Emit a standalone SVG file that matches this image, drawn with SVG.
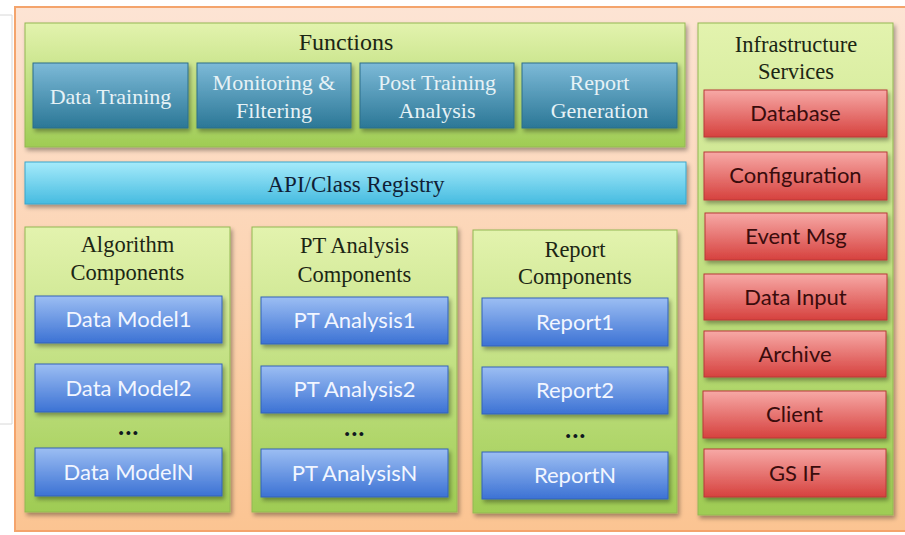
<svg xmlns="http://www.w3.org/2000/svg" width="905" height="535" viewBox="0 0 905 535">
<defs>
<linearGradient id="gOuter" x1="0" y1="0" x2="0" y2="1"><stop offset="0" stop-color="#FDE4D4"/><stop offset="1" stop-color="#FBC492"/></linearGradient>
<linearGradient id="gGreen" x1="0" y1="0" x2="0" y2="1"><stop offset="0" stop-color="#E3F3AE"/><stop offset="1" stop-color="#9FCC54"/></linearGradient>
<linearGradient id="gTeal" x1="0" y1="0" x2="0" y2="1"><stop offset="0" stop-color="#7DBAD8"/><stop offset="1" stop-color="#2B7796"/></linearGradient>
<linearGradient id="gCyan" x1="0" y1="0" x2="0" y2="1"><stop offset="0" stop-color="#A6EBFB"/><stop offset="1" stop-color="#45BBE0"/></linearGradient>
<linearGradient id="gRed" x1="0" y1="0" x2="0" y2="1"><stop offset="0" stop-color="#F7A9A6"/><stop offset="1" stop-color="#D6413E"/></linearGradient>
<linearGradient id="gBlue" x1="0" y1="0" x2="0" y2="1"><stop offset="0" stop-color="#9CBEF3"/><stop offset="1" stop-color="#3C72D4"/></linearGradient>
<filter id="sh" x="-10%" y="-10%" width="125%" height="130%"><feDropShadow dx="2" dy="3" stdDeviation="2" flood-color="#000" flood-opacity="0.35"/></filter>
</defs>
<style>
.outer{fill:url(#gOuter);stroke:#F4A46C;stroke-width:2}
.green{fill:url(#gGreen);stroke:#93B852;stroke-width:1;filter:url(#sh)}
.teal{fill:url(#gTeal);stroke:#2D6F8A;stroke-width:1;filter:url(#sh)}
.cyan{fill:url(#gCyan);stroke:#3AA6CC;stroke-width:1;filter:url(#sh)}
.red{fill:url(#gRed);stroke:#B83A38;stroke-width:1;filter:url(#sh)}
.blue{fill:url(#gBlue);stroke:#3463B8;stroke-width:1;filter:url(#sh)}
.ser{font-family:"Liberation Serif","Times New Roman",serif;text-anchor:middle}
.title{font-size:22.5px;fill:#1C2614}
.ftxt{font-size:22px;fill:#E6F2F6}
.api{font-size:23px;fill:#101E36}
.sans{font-family:Lato,"Liberation Sans",sans-serif;font-size:22px;text-anchor:middle}
.rtxt{fill:#3A0C0C}
.btxt{fill:#F2F6FF}
.dots{font-family:Lato,"Liberation Sans",sans-serif;font-size:24px;font-weight:900;letter-spacing:1.5px;text-anchor:middle;fill:#101820}
</style>
<path d="M0 15 H12 V424 H0" fill="none" stroke="#D8D8D8" stroke-width="1"/>
<rect id="outer" class="outer" x="15" y="7" width="900" height="524"/>

<g id="functions">
<rect class="green" x="25" y="23" width="660" height="124"/>
<text class="ser title" x="346" y="50" style="font-size:24px">Functions</text>
</g>
<g id="data-training"><rect class="teal" x="33" y="63" width="155" height="65"/><text class="ser ftxt" x="110.5" y="104">Data Training</text></g>
<g id="monitoring"><rect class="teal" x="197" y="63" width="154" height="65"/><text class="ser ftxt" x="274" y="90">Monitoring &amp;</text><text class="ser ftxt" x="274" y="118">Filtering</text></g>
<g id="post-training"><rect class="teal" x="360" y="63" width="154" height="65"/><text class="ser ftxt" x="437" y="90">Post Training</text><text class="ser ftxt" x="437" y="118">Analysis</text></g>
<g id="report-generation"><rect class="teal" x="522" y="63" width="155" height="65"/><text class="ser ftxt" x="599.5" y="90">Report</text><text class="ser ftxt" x="599.5" y="118">Generation</text></g>

<g id="api-registry"><rect class="cyan" x="25" y="162" width="661" height="42"/><text class="ser api" x="356" y="192">API/Class Registry</text></g>

<g id="infrastructure">
<rect class="green" x="698" y="23" width="195" height="492"/>
<text class="ser title" x="796" y="52">Infrastructure</text>
<text class="ser title" x="796" y="79">Services</text>
</g>
<g id="database"><rect class="red" x="704" y="90" width="183" height="47"/><text class="sans rtxt" x="795.5" y="121">Database</text></g>
<g id="configuration"><rect class="red" x="704" y="152" width="183" height="48"/><text class="sans rtxt" x="795.5" y="183">Configuration</text></g>
<g id="event-msg"><rect class="red" x="705" y="213" width="182" height="47"/><text class="sans rtxt" x="796" y="244">Event Msg</text></g>
<g id="data-input"><rect class="red" x="704" y="274" width="183" height="46"/><text class="sans rtxt" x="795.5" y="304.5">Data Input</text></g>
<g id="archive"><rect class="red" x="704" y="331" width="182" height="46"/><text class="sans rtxt" x="795" y="361.5">Archive</text></g>
<g id="client"><rect class="red" x="703" y="391" width="183" height="47"/><text class="sans rtxt" x="794.5" y="422">Client</text></g>
<g id="gs-if"><rect class="red" x="704" y="449" width="182" height="48"/><text class="sans rtxt" x="795" y="480.5">GS IF</text></g>

<g id="algorithm-components">
<rect class="green" x="25" y="227" width="205" height="285"/>
<text class="ser title" x="127.5" y="252">Algorithm</text>
<text class="ser title" x="127.5" y="280">Components</text>
<text class="dots" x="129" y="435">...</text>
</g>
<g id="data-model1"><rect class="blue" x="35" y="296" width="187" height="47"/><text class="sans btxt" x="128.5" y="327">Data Model1</text></g>
<g id="data-model2"><rect class="blue" x="35" y="364" width="187" height="48"/><text class="sans btxt" x="128.5" y="395.5">Data Model2</text></g>
<g id="data-modeln"><rect class="blue" x="35" y="448" width="187" height="48"/><text class="sans btxt" x="128.5" y="479.5">Data ModelN</text></g>

<g id="pt-analysis-components">
<rect class="green" x="252" y="227" width="205" height="285"/>
<text class="ser title" x="354.5" y="253">PT Analysis</text>
<text class="ser title" x="354.5" y="282">Components</text>
<text class="dots" x="355" y="436">...</text>
</g>
<g id="pt-analysis1"><rect class="blue" x="261" y="297" width="187" height="47"/><text class="sans btxt" x="354.5" y="328">PT Analysis1</text></g>
<g id="pt-analysis2"><rect class="blue" x="261" y="366" width="187" height="47"/><text class="sans btxt" x="354.5" y="397">PT Analysis2</text></g>
<g id="pt-analysisn"><rect class="blue" x="261" y="449" width="187" height="48"/><text class="sans btxt" x="354.5" y="480.5">PT AnalysisN</text></g>

<g id="report-components">
<rect class="green" x="473" y="230" width="204" height="283"/>
<text class="ser title" x="575" y="257">Report</text>
<text class="ser title" x="575" y="284">Components</text>
<text class="dots" x="576" y="438">...</text>
</g>
<g id="report1"><rect class="blue" x="482" y="298" width="186" height="48"/><text class="sans btxt" x="575" y="329.5">Report1</text></g>
<g id="report2"><rect class="blue" x="482" y="367" width="186" height="47"/><text class="sans btxt" x="575" y="398">Report2</text></g>
<g id="reportn"><rect class="blue" x="482" y="452" width="186" height="47"/><text class="sans btxt" x="575" y="483">ReportN</text></g>

<g id="connectors"></g>
</svg>
